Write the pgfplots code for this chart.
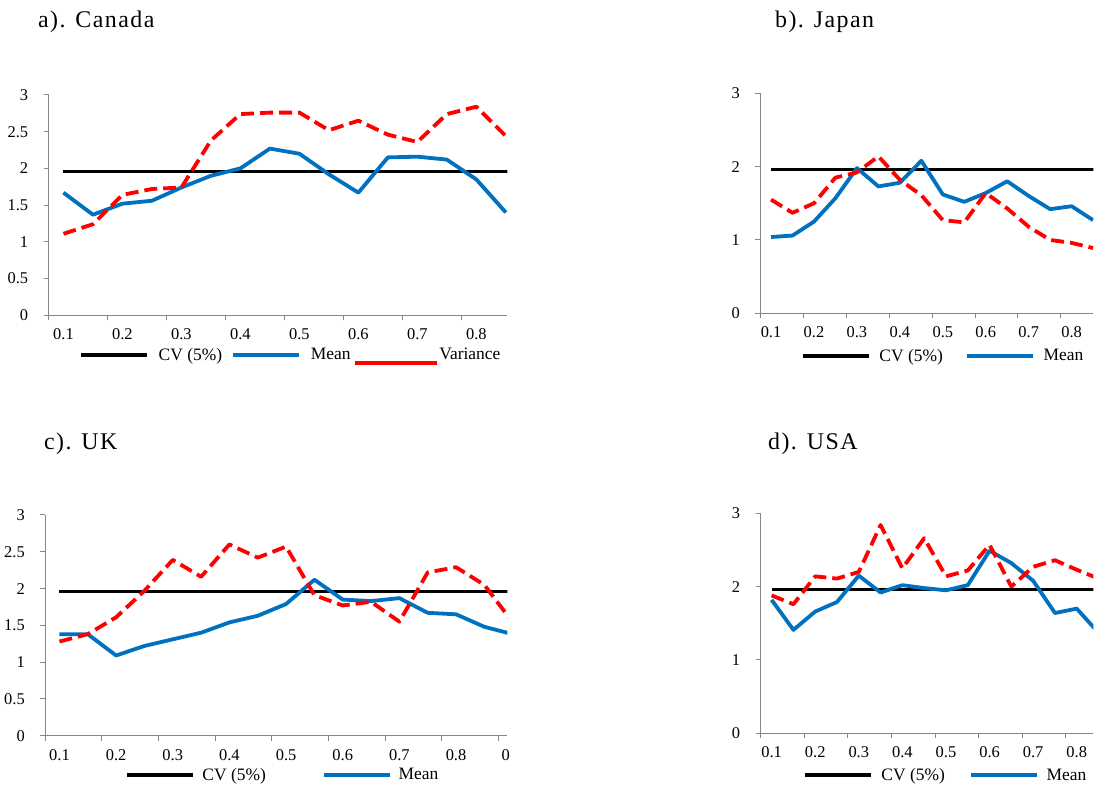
\documentclass[border=0pt]{standalone}
\usepackage{fontspec}
\setmainfont{Liberation Serif}
\newfontfamily\titlefont[LetterSpace=6]{Liberation Serif}
\usepackage{pgfplots}
\usepackage{pgfplotstable}
\pgfplotsset{compat=1.18}
\definecolor{xlblue}{RGB}{0,112,192}
\definecolor{xlgray}{RGB}{134,134,134}

\pgfplotstableread{
k mean var
1 1.67 1.11
2 1.37 1.24
3 1.52 1.64
4 1.56 1.72
5 1.74 1.74
6 1.90 2.38
7 2.00 2.74
8 2.27 2.76
9 2.20 2.76
10 1.92 2.52
11 1.67 2.65
12 2.15 2.46
13 2.16 2.36
14 2.12 2.74
15 1.85 2.84
16 1.40 2.44
}\canada

\pgfplotstableread{
k mean var
1 1.04 1.55
2 1.06 1.37
3 1.25 1.50
4 1.57 1.85
5 1.98 1.92
6 1.73 2.14
7 1.78 1.82
8 2.08 1.61
9 1.62 1.27
10 1.52 1.24
11 1.64 1.64
12 1.80 1.43
13 1.60 1.18
14 1.42 1.00
15 1.46 0.96
16 1.27 0.89
}\japan

\pgfplotstableread{
k mean var
1 1.38 1.28
2 1.38 1.38
3 1.09 1.61
4 1.22 1.97
5 1.31 2.39
6 1.40 2.16
7 1.54 2.60
8 1.63 2.42
9 1.79 2.57
10 2.12 1.91
11 1.85 1.77
12 1.83 1.82
13 1.87 1.55
14 1.67 2.22
15 1.65 2.29
16 1.48 2.05
17 1.38 1.54
}\uk

\pgfplotstableread{
k mean var
1 1.82 1.88
2 1.41 1.76
3 1.66 2.14
4 1.79 2.11
5 2.15 2.20
6 1.92 2.84
7 2.02 2.25
8 1.98 2.66
9 1.95 2.14
10 2.02 2.22
11 2.49 2.57
12 2.32 2.00
13 2.08 2.27
14 1.64 2.36
15 1.70 2.23
16 1.37 2.11
}\usa

\pgfplotsset{
  panel/.style={
    scale only axis,
    axis lines*=left,
    axis line style={xlgray, line width=1bp},
    tick style={xlgray, line width=1bp},
    tick align=outside,
    major tick length=5bp,
    xmin=0.5, ymin=0, ymax=3,
    xtick={0.5,2.5,...,16.5},
    xticklabels={},
    extra x ticks={1,3,...,15},
    extra x tick labels={0.1,0.2,0.3,0.4,0.5,0.6,0.7,0.8},
    extra x tick style={major tick length=0pt, tick style={draw=none}},
    tick label style={font=\fontsize{16.5}{18}\selectfont, text=black},
    xticklabel style={yshift=-10bp},
    yticklabel style={xshift=-12bp},
    legend style={draw=none, fill=none, font=\fontsize{17.5}{19}\selectfont, legend columns=-1, nodes={inner sep=0pt}},
    legend image code/.code={\draw[#1] (0bp,0bp) -- (66bp,0bp);},
    clip=true,
  },
  halfticks/.style={ytick={0,0.5,1,1.5,2,2.5,3}, yticklabels={0,0.5,1,1.5,2,2.5,3}},
  unitticks/.style={ytick={0,1,2,3}, yticklabels={0,1,2,3}},
  cvline/.style={black, line width=3.3bp},
  meanline/.style={xlblue, line width=3.8bp, line join=round},
  varline/.style={red, line width=3.8bp, dash pattern=on 13bp off 6bp, line join=round},
}

\begin{document}
\begin{tikzpicture}[x=1bp,y=1bp]
\useasboundingbox (0,0) rectangle (1106,788);

% a) Canada
\begin{axis}[panel, halfticks, at={(48.7bp,472.7bp)}, anchor=south west,
  width=458.6bp, height=220.3bp, xmax=16.05,
  legend style={at={(0.060,-0.18)}, anchor=west,
    /tikz/column 1/.style={column sep=10bp}, /tikz/column 2/.style={column sep=9bp},
    /tikz/column 3/.style={column sep=10bp}, /tikz/column 4/.style={column sep=2bp},
    /tikz/column 5/.style={column sep=1bp}}]
\addplot[cvline] coordinates {(1,1.96) (17,1.96)};
\addlegendentry{CV (5\%)}
\addplot[meanline] table[x=k,y=mean]{\canada};
\addlegendentry{Mean}
\addplot[varline, legend image code/.code={\path (0bp,8bp); \draw[solid,red,line width=3.8bp] (0bp,-8bp) -- (82bp,-8bp);}] table[x=k,y=var]{\canada};
\addlegendentry{Variance}
\end{axis}

% b) Japan
\begin{axis}[panel, unitticks, at={(760.3bp,474.7bp)}, anchor=south west,
  width=333bp, height=220bp, xmax=16.01,
  legend style={at={(0.113,-0.194)}, anchor=west,
    /tikz/column 1/.style={column sep=9bp}, /tikz/column 2/.style={column sep=22bp},
    /tikz/column 3/.style={column sep=9bp}}]
\addplot[cvline] coordinates {(1,1.96) (17,1.96)};
\addlegendentry{CV (5\%)}
\addplot[meanline] table[x=k,y=mean]{\japan};
\addlegendentry{Mean}
\addplot[varline] table[x=k,y=var]{\japan};
\end{axis}

% c) UK
\begin{axis}[panel, halfticks, at={(45.3bp,52.3bp)}, anchor=south west,
  width=462bp, height=220.7bp, xmax=16.81,
  extra x ticks={1,3,...,15,16.8},
  extra x tick labels={0.1,0.2,0.3,0.4,0.5,0.6,0.7,0.8,\makebox[0pt][l]{\hspace{-5.3bp}0}},
  legend style={at={(0.166,-0.178)}, anchor=west,
    /tikz/column 1/.style={column sep=8bp}, /tikz/column 2/.style={column sep=56bp},
    /tikz/column 3/.style={column sep=7bp}}]
\addplot[cvline] coordinates {(1,1.96) (18,1.96)};
\addlegendentry{CV (5\%)}
\addplot[meanline] table[x=k,y=mean]{\uk};
\addlegendentry{Mean}
\addplot[varline] table[x=k,y=var]{\uk};
\end{axis}

% d) USA
\begin{axis}[panel, unitticks, at={(760.7bp,54.7bp)}, anchor=south west,
  width=332.6bp, height=220bp, xmax=15.76,
  legend style={at={(0.118,-0.19)}, anchor=west,
    /tikz/column 1/.style={column sep=9bp}, /tikz/column 2/.style={column sep=24bp},
    /tikz/column 3/.style={column sep=8bp}}]
\addplot[cvline] coordinates {(1,1.96) (17,1.96)};
\addlegendentry{CV (5\%)}
\addplot[meanline] table[x=k,y=mean]{\usa};
\addlegendentry{Mean}
\addplot[varline] table[x=k,y=var]{\usa};
\end{axis}

\node[anchor=base west, inner sep=0pt, font=\titlefont\fontsize{24}{27}\selectfont] at (38,760) {a). Canada};
\node[anchor=base west, inner sep=0pt, font=\titlefont\fontsize{24}{27}\selectfont] at (775,760) {b). Japan};
\node[anchor=base west, inner sep=0pt, font=\titlefont\fontsize{24}{27}\selectfont] at (44,338) {c). UK};
\node[anchor=base west, inner sep=0pt, font=\titlefont\fontsize{24}{27}\selectfont] at (768,338) {d). USA};
\end{tikzpicture}
\end{document}
